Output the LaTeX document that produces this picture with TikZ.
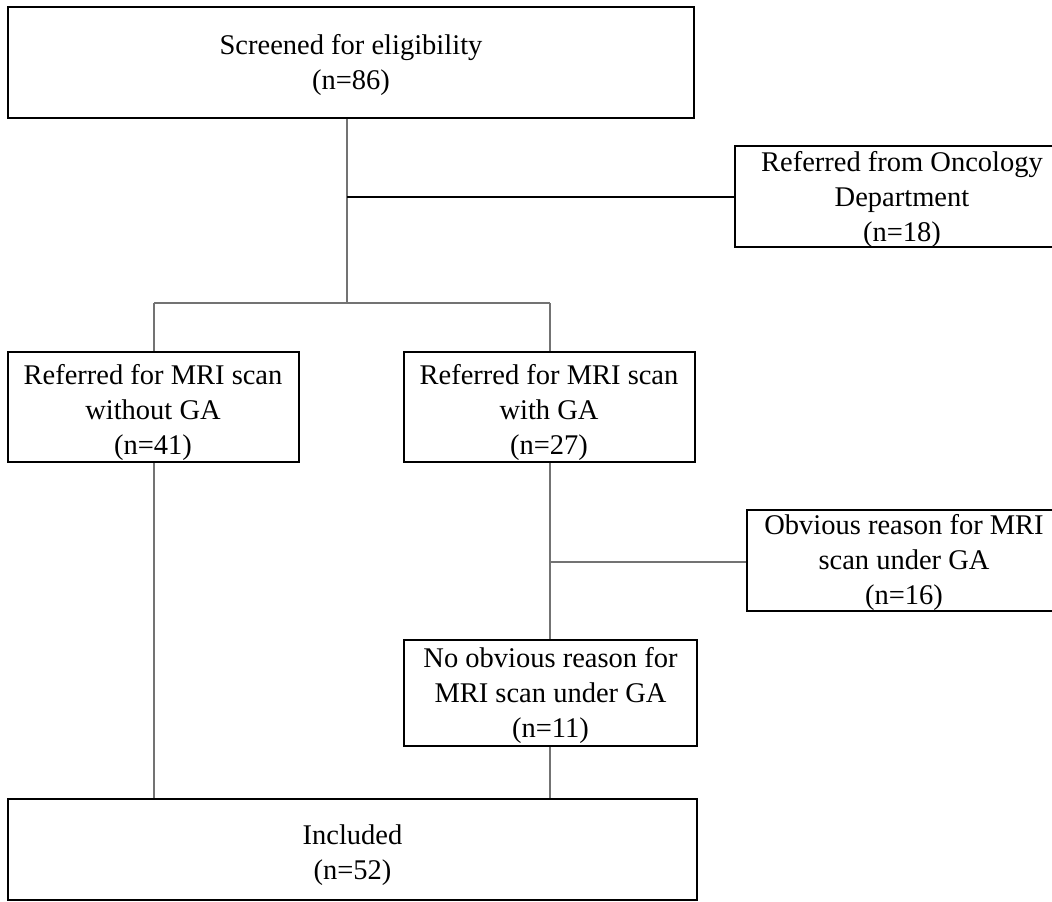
\documentclass[tikz,border=0pt]{standalone}
\usepackage{fontspec}
\setmainfont{Liberation Serif}
\usetikzlibrary{positioning}
\tikzset{
  boxnode/.style={draw=black, line width=1.8pt, rectangle, inner sep=0pt},
  txt/.style={align=center, inner sep=0pt, font=\fontsize{28.5}{35}\selectfont},
  conn/.style={draw=black!55, line width=1.4pt},
  connblack/.style={draw=black, line width=1.4pt}
}
\begin{document}
\begin{tikzpicture}[x=1pt,y=-1pt]
\useasboundingbox (0,0) rectangle (1052,902);
\clip (0,0) rectangle (1052,902);
% boxes
\node[boxnode, minimum width=686pt, minimum height=111pt] (top) at (351,62.5) {};
\node[boxnode, minimum width=334pt, minimum height=101pt] (onc) at (902,196.5) {};
\node[boxnode, minimum width=291pt, minimum height=110pt] (left) at (153.5,407) {};
\node[boxnode, minimum width=291pt, minimum height=110pt] (mid) at (549.5,407) {};
\node[boxnode, minimum width=314pt, minimum height=101pt] (obv) at (904,560.5) {};
\node[boxnode, minimum width=293pt, minimum height=106pt] (noobv) at (550.5,693) {};
\node[boxnode, minimum width=689pt, minimum height=101pt] (inc) at (352.5,849.5) {};
% texts
\node[txt] (toptxt) at (351,65) {Screened for eligibility\\(n=86)};
\node[txt] (onctxt) at (902,199) {Referred from Oncology\\Department\\(n=18)};
\node[txt] (lefttxt) at (153,412) {Referred for MRI scan\\without GA\\(n=41)};
\node[txt] (midtxt) at (549,412) {Referred for MRI scan\\with GA\\(n=27)};
\node[txt] (obvtxt) at (904,562) {Obvious reason for MRI\\scan under GA\\(n=16)};
\node[txt] (noobvtxt) at (550.5,695) {No obvious reason for\\MRI scan under GA\\(n=11)};
\node[txt] (inctxt) at (352.5,855) {Included\\(n=52)};
% connector coordinates
\coordinate (j1) at (347,303);
\coordinate (j2) at (347,197);
\coordinate (jl) at (154,303);
\coordinate (jm) at (550,303);
\coordinate (j3) at (550,562);
% connectors
\draw[conn] (top.south -| j1) -- (j1);
\draw[connblack] (j2) -- (j2 -| onc.west);
\draw[conn] (jl) -- (jm);
\draw[conn] (jl) -- (jl |- left.north);
\draw[conn] (jm) -- (jm |- mid.north);
\draw[conn] (left.south -| jl) -- (inc.north -| jl);
\draw[conn] (mid.south -| jm) -- (noobv.north -| jm);
\draw[conn] (j3) -- (j3 -| obv.west);
\draw[conn] (noobv.south -| jm) -- (inc.north -| jm);
\end{tikzpicture}
\end{document}
